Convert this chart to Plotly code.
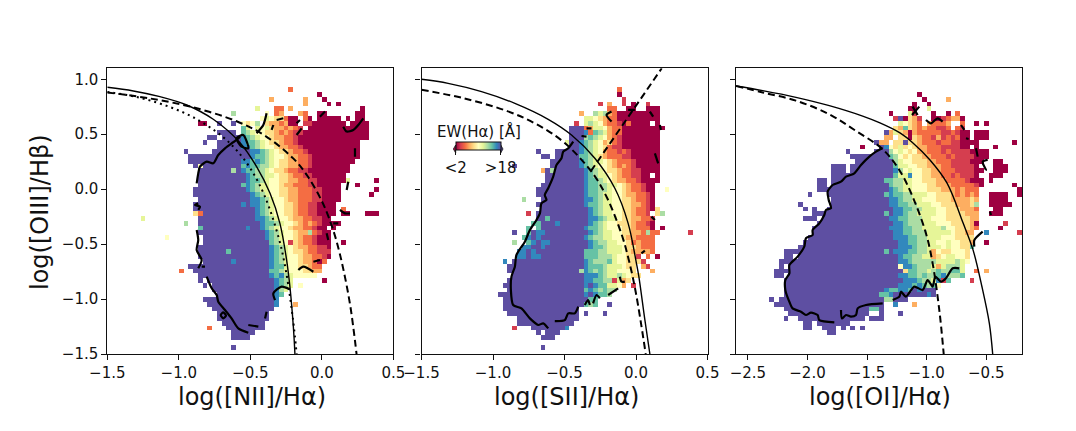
import re

import numpy as np
import plotly.graph_objects as go
from plotly.subplots import make_subplots

WIDTH = 1076
HEIGHT = 431
N_CELLS = 60
FONT = "DejaVu Sans"

# EW(Halpha) levels, one letter per cell. rows run top to bottom, "19.4k" = 19 empty cells then 4 of level k
EW_LEVELS = dict(zip("abcdefghijk", [2.0, 3.6, 5.2, 6.8, 8.4, 10.0, 11.6, 13.2, 14.8, 16.4, 18.0]))

NII_ROWS = [
    "", "", "", "", "38.c", "44.a", "34.d6.d3.a", "41.d4.a1.a", "31.g3.2c1.d14.a",
    "26.h6.f1.cd3.dc2.2a6.2a",
    "32.fgfeec2a1.ca1.5a1.a1.2a",
    "19.2a2.k2.k1.fefh1.eddcd2a1.2b7a1.4a",
    "28.ig1.gfgeddcdcb1.13a",
    "23.4k1.ihgffeedcdcbb14a",
    "21.2k1.4kjihgffeddccb15a",
    "20.k2.5kjiihgfeedccb13a",
    "23.5kjjihgffeddccb12a",
    "16.k5.8kjjihgfeedccb11a",
    "17.13kjiihgffeddccb10a",
    "17.11kjjijihgfeeddccb9a",
    "18.kf8kijiihhgfeeddccb8a",
    "19.7khkjiihhgfeedccbb9a",
    "19.10kjihhggfeedccbb7a",
    "19.10kjiihgffeeddccbb6ag5.a",
    "19.9kijihggffeddcccbb5a3.a",
    "18.11kjihggffeeddcccbb4a7.a",
    "18.12kjihgffeeddcccbb4a6.a",
    "19.11kjjihgffeddcccbb4a",
    "18.10kjkjjihgffeedccbb4a",
    "18.13kjihgffeedccbb4a1.c",
    "18.ec11kjihgffeedccbb4a1.2a3.3a",
    "7.g11.12kjjihgffeddccbb2a",
    "16.h2.13kjiihgffedcdcb4a",
    "19.i9kj2kjihgffeddccb2a1.a",
    "19.14kjihgffeddhcb2a",
    "12.f7.13kjihgffedccb3a",
    "20.14kihgfbedccb3a2.a",
    "19.15kjihgfeddccbba",
    "19.6ki8kjihgfeedccbbb",
    "19.15kjihgffeddccba",
    "20.6kj7kjihgffeddcac",
    "17.17kjiigffeedcc",
    "15.c2.16kiihgfffeedd",
    "19.15kjijhg5f",
    "19.k1.14kjihg6.a",
    "20.k1.13kjihg1.f",
    "22.13kjhg",
    "23.12kji",
    "20.15kj",
    "21.14kj3.d",
    "22.13k",
    "23.11k",
    "23.11k",
    "24.9k",
    "21.c3.8k",
    "26.5k",
    "26.4k",
    "",
    "26.k",
    "",
]

SII_ROWS = [
    "", "", "", "", "41.c", "41.a", "42.b", "37.b1.d2.b1.a2.b",
    "39.2c2.2a2.3a",
    "33.d2.hghdc9a",
    "34.ggfedcc9a",
    "32.b1.ghgfdccbac4a1.a",
    "31.3kcdggfdcc9a",
    "31.3kjcihgdcc8a",
    "31.3khihgfdcb8a",
    "30.g2kjihgfdecb8a",
    "31.2kjihgfecbb8a",
    "24.k3.5kjihgfdccbcb6a",
    "25.2k1.5kiihgedcccbb6a",
    "27.6kjihggfedcccb5a",
    "19.k7.6kjihgffedcdcb5a",
    "25.dkh6kjihgfeedccbb4a",
    "26.8kjihggfedccbb2a1.a",
    "26.8kjiihgfeddccb4a",
    "25.9kjiihhggfedccb2a",
    "24.10kjiihhgffedccb2a2.f",
    "24.10kjiihggffeddccba",
    "21.h3.9kjjihggffeedccba",
    "24.10kjiihggffeeddcba",
    "25.10kjihggffeedccbae",
    "22.b1.11kjihggffeedccb1.eh",
    "24.2ki8kjjihggfeeddccb",
    "23.2i3kj6kjihgffeeedccba",
    "22.i1.i9kjiihgfffeedccca1.a",
    "19.k2.ik2j9kjihggffeeddchcc6.b",
    "21.ijkj9kjihhggffedd4c",
    "19.h2.ijk2j8kjihhggffecd3c",
    "21.2j2kj9kjiihgggfeedccc",
    "20.2jkj10k3i2h3gfed3dc",
    "20.2jk2j9k3i3hg2f2eb1.c1.a",
    "17.j1.15kjihhhigffeeeb",
    "18.16kj3ih3gf2e1.db",
    "18.15khjihihggfffe3.d",
    "19.15k3jihgghgfee",
    "18.16k2j2i2hbgde",
    "17.17kjkj2i2gfd1.b",
    "18.16kijihihh",
    "16.18kjkj2ih",
    "17.18k2i",
    "17.17kihi2.k",
    "17.16k",
    "18.15k1.k3.k",
    "20.13k",
    "20.12k",
    "19.b3.7kj",
    "24.k1.3k",
    "25.3k",
    "",
    "25.k",
    "",
]

OI_ROWS = [
    "", "", "", "", "", "38.a", "39.a4.d", "37.a2.a", "36.2a2.g",
    "32.a3.gb3.a2.a1.c",
    "33.bkaedb2.2abcdda",
    "34.gfedc1.dcccd2.c2.a1.a",
    "33.ediedcdccbbc1.cb",
    "31.kdgedad5cbbcb2a1.3a",
    "31.2d1.2eaedccbdbcbc2a1.3a",
    "29.k2d1.2ek2ed3cb2c2b4a7.a",
    "26.a3.kjfegefe2d3c4b2a1.a3.a",
    "23.k5.3khfgfefddcccbc4b4a",
    "24.8kihfefeedd3cbc4b3a",
    "25.8khgffeeedd3c4b3a2.2a",
    "20.3k1.9kigg2f2e3d2c5ba3.3a",
    "20.3k1.9kjhfgffeedd3c4b2a2.3a",
    "20.13kiggjffeeddccbc3ba2.3a",
    "17.2k1.11k2i2h2g2f3e2d4cb3a1.a",
    "17.2k1.12ki2h2g3f2e3d5cba6.a",
    "17.15kjih2g3f3e3dcd3c8.a",
    "15.k3.12kijiihhgggffeeedcdcdc2.4a2.a",
    "20.12kjjihhggfffeee4ded2.4a",
    "13.k6.12kjjiihhgggffeee3deh2.5a",
    "14.k1.k2.14kjjiihhgggffeee3dc3.2a",
    "16.15kikjjihhggggffeeee3d2.3a",
    "14.3k1.14kjjiihhhggfff5e2d",
    "17.16kjjihhhgggfff4eda5.b",
    "16.16kjjjiihhggggh2f3edc4.a",
    "16.17kjjiihhh5gfeedd2.j6.b",
    "15.18k3j2i2h3g3f4e",
    "14.20k2j2i2h2g2fg2f2ed2.a",
    "13.21k3ji2h3gfg2f2ei",
    "10.21kik3j2i2hgdfeefffe",
    "10.2k1.21kj2i2h2gdefggffe",
    "9.25k2ji5h4ghgf",
    "9.k1.23kfjjihhhgdghhhg",
    "8.27keiihhghihhiig2.c1.d",
    "8.2k1.23kjjiihihhijhhhi",
    "10.25k3jihhgjbi4.b",
    "10.24k3jijihif",
    "10.21kj2i2jikj3k",
    "10.20k2ij7kjk",
    "7.k1.22k2h3k",
    "8.23k2.j3.d",
    "10.18k2ik",
    "11.17k2.k3.k",
    "10.k2.14k1.3k",
    "14.2k1.7k",
    "14.2k2.3k1.k1.k1.k",
    "19.2k",
    "", "", "", "",
]

# demarcation lines
NII_SOLID_X = [-1.5, -1.318, -1.132, -0.945, -0.759, -0.572, -0.456, -0.362, -0.293, -0.246, -0.223, -0.199, -0.188]
NII_SOLID_Y = [0.927, 0.894, 0.842, 0.766, 0.636, 0.423, 0.205, -0.038, -0.311, -0.645, -0.887, -1.251, -1.5]
NII_DOTTED_X = [-1.5, -1.3, -1.1, -0.9, -0.7, -0.6, -0.5, -0.4, -0.3, -0.25, -0.2, -0.176]
NII_DOTTED_Y = [0.885, 0.84, 0.765, 0.655, 0.485, 0.36, 0.19, -0.06, -0.45, -0.75, -1.2, -1.5]
NII_DASHED_X = [-1.5, -1.2, -0.9, -0.6, -0.4, -0.2, -0.1, 0.0, 0.05, 0.1, 0.15, 0.2, 0.243]
NII_DASHED_Y = [0.88, 0.825, 0.745, 0.62, 0.489, 0.28, 0.12, -0.108, -0.262, -0.459, -0.725, -1.069, -1.5]

SII_SOLID_X = [-1.5, -1.314, -1.08, -0.847, -0.614, -0.451, -0.288, -0.148, -0.055, 0.003, 0.02, 0.062, 0.097]
SII_SOLID_Y = [1.0, 0.963, 0.888, 0.781, 0.636, 0.493, 0.281, 0.008, -0.311, -0.675, -0.796, -1.19, -1.5]
SII_DASHED_X = [-1.5, -1.2, -0.9, -0.7, -0.5, -0.3, -0.2, -0.1, -0.05, 0.0, 0.068]
SII_DASHED_Y = [0.904, 0.826, 0.71, 0.594, 0.422, 0.139, -0.085, -0.414, -0.646, -0.95, -1.5]
SII_LINER_X = [-0.315, 0.18]
SII_LINER_Y = [0.165, 1.1]

OI_SOLID_X = [-2.6, -2.376, -2.097, -1.817, -1.537, -1.392, -1.224, -1.115, -0.972, -0.83, -0.695, -0.611, -0.536, -0.474, -0.446]
OI_SOLID_Y = [0.939, 0.897, 0.836, 0.76, 0.665, 0.603, 0.512, 0.421, 0.266, 0.057, -0.306, -0.552, -0.888, -1.221, -1.5]
OI_DASHED_X = [-2.6, -2.376, -2.097, -1.817, -1.593, -1.369, -1.23, -1.118, -1.006, -0.95, -0.894, -0.857]
OI_DASHED_Y = [0.94, 0.88, 0.806, 0.681, 0.53, 0.363, 0.175, -0.068, -0.402, -0.675, -1.1, -1.5]

# thick density contours, None breaks the line
NII_CONTOUR_X = [
    -0.572, -0.596, -0.631, -0.677, -0.724, -0.759, -0.805, -0.852, -0.864, -0.875, None,
    -0.864, -0.887, -0.852, -0.864, None,
    -0.875, -0.864, -0.875, -0.840, -0.864, None,
    -0.840, -0.817, None,
    -0.805, -0.770, -0.735, -0.724, -0.677, -0.631, -0.584, -0.514, None,
    -0.707, -0.689, -0.670, -0.689, -0.707, None,
    -0.514, -0.444, None,
    -0.397, -0.386, None,
    -0.327, -0.339, -0.281, -0.223, None,
    -0.596, -0.549, -0.514, -0.561, -0.596, None,
    -0.456, -0.409, -0.386, None,
    -0.351, -0.339, None,
    -0.316, -0.269, None,
    -0.176, -0.153, None,
    -0.176, -0.141, None,
    -0.013, 0.022, None,
    0.150, 0.174, 0.220, 0.255, 0.290, None,
    0.232, 0.232, None,
    0.174, 0.185, None,
    0.127, 0.162, 0.197, None,
    0.080, 0.115, None,
    0.034, 0.045, None,
    -0.059, -0.013, None,
    -0.164, -0.129, -0.059,
]
NII_CONTOUR_Y = [
    0.478, 0.448, 0.417, 0.372, 0.311, 0.235, 0.250, 0.205, 0.144, 0.053, None,
    -0.129, -0.144, -0.159, -0.189, None,
    -0.372, -0.463, -0.554, -0.645, -0.720, None,
    -0.705, -0.705, None,
    -0.796, -0.902, -0.963, -1.024, -1.100, -1.176, -1.267, -1.306, None,
    -1.145, -1.121, -1.151, -1.176, -1.145, None,
    -1.236, -1.251, None,
    -1.176, -1.115, None,
    -1.009, -0.948, -0.887, -0.912, None,
    0.463, 0.493, 0.372, 0.387, 0.463, None,
    0.508, 0.584, 0.690, None,
    0.539, 0.584, None,
    0.630, 0.645, None,
    0.599, 0.630, None,
    0.493, 0.554, None,
    0.660, 0.706, None,
    0.569, 0.524, 0.539, 0.584, 0.645, None,
    0.372, 0.296, None,
    -0.007, 0.068, None,
    -0.189, -0.220, -0.220, None,
    -0.311, -0.311, None,
    -0.402, -0.463, None,
    -0.660, -0.645, None,
    -0.736, -0.705, -0.751,
]

SII_CONTOUR_X = [
    -0.439, -0.474, -0.509, -0.521, -0.556, -0.579, -0.614, -0.638, -0.626, -0.661, -0.672, -0.696,
    -0.742, -0.777, -0.836, -0.847, -0.871, -0.875, -0.859, -0.801, -0.742, -0.684, -0.649, -0.614, None,
    -0.568, -0.498, -0.474, -0.428, -0.404, None,
    -0.358, -0.335, -0.323, None,
    -0.300, -0.276, -0.253, None,
    -0.195, -0.125, None,
    -0.113, -0.101, -0.078, None,
    0.038, 0.062, None,
    -0.381, -0.346, None,
    -0.346, -0.311, None,
    -0.171, -0.206, -0.171, None,
    -0.055, -0.008, None,
    0.097, 0.120, None,
    0.167, 0.174, None,
    0.132, 0.155, None,
    0.108, 0.132,
]
SII_CONTOUR_Y = [
    0.433, 0.372, 0.342, 0.281, 0.220, 0.114, 0.008, -0.053, -0.098, -0.129, -0.220, -0.280,
    -0.372, -0.478, -0.599, -0.705, -0.796, -0.918, -1.054, -1.085, -1.176, -1.236, -1.221, -1.267, None,
    -1.200, -1.191, -1.130, -1.130, -1.069, None,
    -1.054, -1.009, -1.054, None,
    -1.039, -0.963, -0.993, None,
    -0.963, -0.902, None,
    -0.796, -0.842, -0.842, None,
    -0.584, -0.560, None,
    0.484, 0.478, None,
    0.554, 0.554, None,
    0.706, 0.675, 0.615, None,
    0.721, 0.721, None,
    0.706, 0.660, None,
    0.584, 0.539, None,
    0.326, 0.235, None,
    -0.250, -0.280,
]

OI_CONTOUR_X = [
    -1.369, -1.425, -1.481, -1.551, -1.607, -1.677, -1.719, -1.789, -1.831, -1.822, -1.803, -1.845,
    -1.859, -1.901, -1.957, -1.957, -2.013, -2.027, -2.083, -2.152, -2.152, -2.186, -2.186, -2.158,
    -2.125, -2.055, -2.013, -1.971, -1.915, -1.901, -1.775, None,
    -1.719, -1.711, -1.677, -1.635, -1.593, -1.579, -1.509, -1.369, None,
    -1.285, -1.229, -1.216, -1.174, -1.104, -1.034, -0.992, -0.950, -0.927, -0.880, -0.838, -0.782, -0.726, None,
    -0.600, -0.600, -0.530, None,
    -0.460, -0.469, None,
    -0.530, -0.502, -0.530, -0.488, None,
    -0.586, -0.572, None,
    -0.670, -0.648, None,
    -0.712, -0.684, None,
    -1.006, -0.964, -0.908, -0.866, None,
    -1.118, -1.076, None,
    -1.123, -1.062,
]
OI_CONTOUR_Y = [
    0.372, 0.342, 0.296, 0.220, 0.144, 0.114, 0.068, 0.038, -0.023, -0.098, -0.174, -0.189,
    -0.235, -0.311, -0.372, -0.417, -0.447, -0.523, -0.614, -0.690, -0.766, -0.827, -0.918, -1.009,
    -1.085, -1.115, -1.145, -1.124, -1.145, -1.191, -1.212, None,
    -1.100, -1.176, -1.145, -1.160, -1.145, -1.085, -1.054, -1.039, None,
    -1.009, -0.978, -0.933, -0.978, -0.887, -0.918, -0.827, -0.887, -0.796, -0.842, -0.811, -0.720, -0.720, None,
    -0.523, -0.463, -0.387, None,
    -0.235, -0.205, None,
    0.235, 0.175, 0.250, 0.266, None,
    0.372, 0.296, None,
    0.463, 0.457, None,
    0.584, 0.539, None,
    0.630, 0.599, 0.645, 0.615, None,
    0.751, 0.675, None,
    0.675, 0.751,
]

Y_RANGE = [-1.5, 1.1]
NII_RANGE = [-1.5, 0.5]
SII_RANGE = [-1.5, 0.5]
OI_RANGE = [-2.6, -0.2]


def parse_rows(rows):
    grid = np.full((N_CELLS, N_CELLS), np.nan)
    for i, row in enumerate(rows):
        col = 0
        for count, level in re.findall(r"(\d*)([a-k.])", row):
            n = int(count) if count else 1
            if level != ".":
                grid[i, col:col + n] = EW_LEVELS[level]
            col += n
    return grid


def add_heat(fig, rows, xrange, col, **kwargs):
    dx = (xrange[1] - xrange[0]) / N_CELLS
    dy = (Y_RANGE[1] - Y_RANGE[0]) / N_CELLS
    fig.add_trace(
        go.Heatmap(
            z=parse_rows(rows),
            x0=xrange[0] + dx / 2,
            dx=dx,
            y0=Y_RANGE[1] - dy / 2,
            dy=-dy,
            zmin=2,
            zmax=18,
            colorscale="Spectral",
            hoverinfo="skip",
            **kwargs,
        ),
        row=1,
        col=col,
    )


def add_line(fig, x, y, col, width, dash="solid", smoothing=1.0):
    fig.add_trace(
        go.Scatter(
            x=x,
            y=y,
            mode="lines",
            line=dict(color="black", width=width, dash=dash, shape="spline", smoothing=smoothing),
            hoverinfo="skip",
        ),
        row=1,
        col=col,
    )


fig = make_subplots(rows=1, cols=3, shared_yaxes=False)

DASH = "7px,4px"
TEXT = "#111"

add_heat(fig, NII_ROWS, NII_RANGE, 1, showscale=False)
add_line(fig, NII_CONTOUR_X, NII_CONTOUR_Y, 1, 2.2, smoothing=0.7)
add_line(fig, NII_SOLID_X, NII_SOLID_Y, 1, 1.4)
add_line(fig, NII_DOTTED_X, NII_DOTTED_Y, 1, 2, "2px,4px")
add_line(fig, NII_DASHED_X, NII_DASHED_Y, 1, 2, DASH)

add_heat(
    fig,
    SII_ROWS,
    SII_RANGE,
    2,
    showscale=True,
    colorbar=dict(
        orientation="h",
        x=478.2 / WIDTH,
        xanchor="center",
        xpad=0,
        y=1 - 178 / HEIGHT,
        yanchor="bottom",
        ypad=0,
        len=45 / WIDTH,
        thickness=8,
        outlinewidth=1,
        outlinecolor=TEXT,
        tickmode="array",
        tickvals=[2, 18],
        ticktext=["<2", ">18"],
        ticks="outside",
        ticklen=5,
        tickcolor=TEXT,
        tickfont=dict(family=FONT, size=15, color=TEXT),
    ),
)
add_line(fig, SII_CONTOUR_X, SII_CONTOUR_Y, 2, 2.2, smoothing=0.7)
add_line(fig, SII_SOLID_X, SII_SOLID_Y, 2, 1.4)
add_line(fig, SII_DASHED_X, SII_DASHED_Y, 2, 2, DASH)
add_line(fig, SII_LINER_X, SII_LINER_Y, 2, 2, DASH)

add_heat(fig, OI_ROWS, OI_RANGE, 3, showscale=False)
add_line(fig, OI_CONTOUR_X, OI_CONTOUR_Y, 3, 2.2, smoothing=0.7)
add_line(fig, OI_SOLID_X, OI_SOLID_Y, 3, 1.4)
add_line(fig, OI_DASHED_X, OI_DASHED_Y, 3, 2, DASH)

axis_style = dict(
    showline=True,
    linecolor=TEXT,
    linewidth=1.1,
    mirror=True,
    ticks="outside",
    ticklen=5,
    tickwidth=1.1,
    tickcolor=TEXT,
    showgrid=False,
    zeroline=False,
    automargin=False,
    dtick=0.5,
    tickformat=".1f",
    tickfont=dict(family=FONT, size=15, color=TEXT),
)
label_font = dict(family=FONT, size=24, color=TEXT)

fig.update_xaxes(axis_style)
fig.update_yaxes(axis_style)
fig.update_xaxes(range=NII_RANGE, tick0=-1.5, domain=[107.3 / WIDTH, 393.3 / WIDTH], row=1, col=1)
fig.update_xaxes(range=SII_RANGE, tick0=-1.5, domain=[421.5 / WIDTH, 707.5 / WIDTH], row=1, col=2)
fig.update_xaxes(range=OI_RANGE, tick0=-2.5, domain=[736 / WIDTH, 1022 / WIDTH], row=1, col=3)
y_domain = [1 - 354 / HEIGHT, 1 - 68.3 / HEIGHT]
fig.update_yaxes(range=Y_RANGE, tick0=-1.5, domain=y_domain, row=1, col=1)
fig.update_yaxes(range=Y_RANGE, tick0=-1.5, domain=y_domain, showticklabels=False, row=1, col=2)
fig.update_yaxes(range=Y_RANGE, tick0=-1.5, domain=y_domain, showticklabels=False, row=1, col=3)

# axis labels
for text, cx in [("log([NII]/Hα)", 252), ("log([SII]/Hα)", 566), ("log([OI]/Hα)", 880)]:
    fig.add_annotation(
        text=text, xref="paper", yref="paper", x=cx / WIDTH, y=1 - 397 / HEIGHT,
        showarrow=False, font=label_font, xanchor="center", yanchor="middle",
    )
fig.add_annotation(
    text="log([OIII]/Hβ)", xref="paper", yref="paper", x=40 / WIDTH, y=1 - 212 / HEIGHT,
    showarrow=False, font=label_font, textangle=-90, xanchor="center", yanchor="middle",
)
fig.add_annotation(
    text="EW(Hα) [Å]", xref="paper", yref="paper", x=478.5 / WIDTH, y=1 - 131 / HEIGHT,
    showarrow=False, font=dict(family=FONT, size=15, color=TEXT), xanchor="center", yanchor="middle",
)

# extend triangles on the colorbar ends
for tip, base, color in [(453.4, 455.7, "#9e0142"), (503.0, 500.7, "#5e4fa2")]:
    x_tip, x_base = tip / WIDTH, base / WIDTH
    y_top, y_mid, y_bot = 1 - 145 / HEIGHT, 1 - 149 / HEIGHT, 1 - 153 / HEIGHT
    fig.add_shape(
        type="path",
        path=f"M {x_base} {y_top} L {x_tip} {y_mid} L {x_base} {y_bot} Z",
        xref="paper",
        yref="paper",
        fillcolor=color,
        line=dict(color=TEXT, width=0.8),
    )

fig.update_layout(
    width=WIDTH,
    height=HEIGHT,
    margin=dict(l=0, r=0, t=0, b=0),
    showlegend=False,
    paper_bgcolor="white",
    plot_bgcolor="white",
    font=dict(family=FONT),
)

fig.write_html("out.html", config={"displayModeBar": False}, post_script="document.body.style.margin='0';")
